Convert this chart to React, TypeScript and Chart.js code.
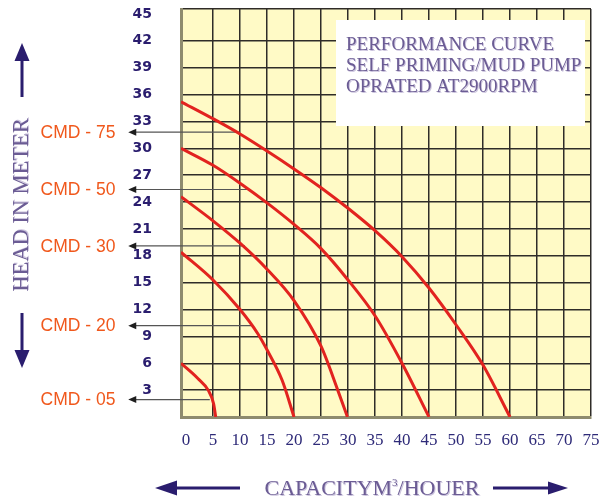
import { useEffect, useRef } from 'react';
import { Chart, registerables } from 'chart.js';

Chart.register(...registerables);

// ---- axis definitions ----
const X_TICKS = [0, 5, 10, 15, 20, 25, 30, 35, 40, 45, 50, 55, 60, 65, 70, 75];
const Y_TICKS = [0, 3, 6, 9, 12, 15, 18, 21, 24, 27, 30, 33, 36, 39, 42, 45];
const X_MIN = -0.93;
const X_MAX = 75;
const Y_MAX = 45.55;

// ---- performance curves (capacity m3/h, head m) ----
const cmd75Q = [-0.93, 5, 10, 15, 20, 25, 30, 35, 40, 45, 50, 55, 60];
const cmd75H = [35.2, 33.3, 31.6, 29.7, 27.7, 25.6, 23.3, 20.8, 17.9, 14.4, 10.3, 5.8, 0];

const cmd50Q = [-0.93, 5, 10, 15, 20, 25, 30, 35, 40, 45];
const cmd50H = [30.0, 28.1, 26.1, 23.9, 21.5, 18.8, 15.3, 11.3, 6.0, 0];

const cmd30Q = [-0.93, 5, 10, 15, 20, 25, 28.1, 29.9];
const cmd30H = [24.6, 21.9, 19.4, 16.5, 13.0, 7.9, 3.0, 0];

const cmd20Q = [-0.93, 5, 10, 13.3, 15, 17.8, 20];
const cmd20H = [18.4, 15.3, 12.0, 9.3, 7.5, 4.1, 0];

const cmd05Q = [-0.93, 2.2, 4.1, 5.1, 5.5];
const cmd05H = [6.0, 4.3, 3.0, 1.5, 0];

// ---- pointer arrows to the model labels ----
const cmdLabels = ['CMD - 75', 'CMD - 50', 'CMD - 30', 'CMD - 20', 'CMD - 05'];
const arrowHead = [31.8, 25.4, 19.1, 10.2, 1.95];
const arrowStartQ = [10.0, 11.9, 10.9, 12.1, 4.4];
const ARROW_TIP_Q = -10.7;

const titleLines = ['PERFORMANCE CURVE', 'SELF PRIMING/MUD PUMP', 'OPRATED AT2900RPM'];

const zip = (xs: number[], ys: number[]) => xs.map((x, i) => ({ x, y: ys[i] }));

const NAVY = '#2a1d6e';
const PURPLE = '#6b5c94';
const SHADOW = '#cbc3dd';

const decorPlugin = {
  id: 'decor',
  beforeDraw(chart: any) {
    const { ctx, chartArea: a } = chart;
    ctx.save();
    ctx.fillStyle = '#fffac6';
    ctx.fillRect(a.left, a.top, a.right - a.left, a.bottom - a.top);
    ctx.restore();
  },
  beforeDatasetsDraw(chart: any) {
    const { ctx, chartArea: a } = chart;
    ctx.save();
    const bx = a.left + 155;
    const by = a.top + 11;
    ctx.fillStyle = '#ffffff';
    ctx.fillRect(bx, by, 249, 106);
    ctx.font = '19px "Liberation Serif", serif';
    ctx.textBaseline = 'middle';
    ctx.textAlign = 'left';
    titleLines.forEach((t, i) => {
      ctx.fillStyle = SHADOW;
      ctx.fillText(t, bx + 11, by + 25 + i * 21 + 1);
      ctx.fillStyle = PURPLE;
      ctx.fillText(t, bx + 10, by + 25 + i * 21);
    });
    ctx.restore();
  },
  afterDatasetsDraw(chart: any) {
    const { ctx } = chart;
    const xs = chart.scales.x;
    const ys = chart.scales.y;
    ctx.save();
    ctx.fillStyle = '#1e1e1e';
    const tx = xs.getPixelForValue(ARROW_TIP_Q);
    arrowHead.forEach((h) => {
      const py = ys.getPixelForValue(h);
      ctx.beginPath();
      ctx.moveTo(tx, py);
      ctx.lineTo(tx + 8, py - 3.5);
      ctx.lineTo(tx + 8, py + 3.5);
      ctx.closePath();
      ctx.fill();
    });
    ctx.restore();
  },
  afterDraw(chart: any) {
    const { ctx } = chart;
    const ys = chart.scales.y;
    ctx.save();
    // model labels
    ctx.font = '17.5px "Liberation Sans", Arial, sans-serif';
    ctx.fillStyle = '#f0581c';
    ctx.textAlign = 'center';
    ctx.textBaseline = 'middle';
    cmdLabels.forEach((t, i) => {
      ctx.fillText(t, 78, ys.getPixelForValue(arrowHead[i]) + 1);
    });

    // y axis title
    ctx.save();
    ctx.translate(22, 205);
    ctx.rotate(-Math.PI / 2);
    ctx.font = '22.5px "Liberation Serif", serif';
    ctx.textAlign = 'center';
    ctx.textBaseline = 'middle';
    ctx.fillStyle = SHADOW;
    ctx.fillText('HEAD IN METER', 1, 1);
    ctx.fillStyle = PURPLE;
    ctx.fillText('HEAD IN METER', 0, 0);
    ctx.restore();

    // vertical arrows
    ctx.strokeStyle = NAVY;
    ctx.fillStyle = NAVY;
    ctx.lineWidth = 3;
    ctx.beginPath();
    ctx.moveTo(22, 97);
    ctx.lineTo(22, 58);
    ctx.moveTo(22, 313);
    ctx.lineTo(22, 354);
    ctx.stroke();
    ctx.beginPath();
    ctx.moveTo(22, 43);
    ctx.lineTo(29.5, 61);
    ctx.lineTo(14.5, 61);
    ctx.closePath();
    ctx.fill();
    ctx.beginPath();
    ctx.moveTo(22, 368);
    ctx.lineTo(29.5, 350);
    ctx.lineTo(14.5, 350);
    ctx.closePath();
    ctx.fill();

    // x axis title
    const cy = 488;
    const big = '22px "Liberation Serif", serif';
    const small = '11px "Liberation Serif", serif';
    const p1 = 'CAPACITYM';
    const p3 = '/HOUER';
    ctx.font = big;
    const w1 = ctx.measureText(p1).width;
    const w3 = ctx.measureText(p3).width;
    ctx.font = small;
    const w2 = ctx.measureText('3').width;
    const x0 = 372 - (w1 + w2 + w3) / 2;
    ctx.textAlign = 'left';
    ctx.textBaseline = 'alphabetic';
    const drawPart = (txt: string, x: number, y: number, font: string) => {
      ctx.font = font;
      ctx.fillStyle = SHADOW;
      ctx.fillText(txt, x + 1, y + 1);
      ctx.fillStyle = PURPLE;
      ctx.fillText(txt, x, y);
    };
    drawPart(p1, x0, 495, big);
    drawPart('3', x0 + w1, 486, small);
    drawPart(p3, x0 + w1 + w2, 495, big);

    // horizontal arrows
    ctx.strokeStyle = NAVY;
    ctx.fillStyle = NAVY;
    ctx.lineWidth = 3;
    ctx.beginPath();
    ctx.moveTo(240, cy);
    ctx.lineTo(172, cy);
    ctx.moveTo(493, cy);
    ctx.lineTo(552, cy);
    ctx.stroke();
    ctx.beginPath();
    ctx.moveTo(155, cy);
    ctx.lineTo(177, cy - 7.5);
    ctx.lineTo(177, cy + 7.5);
    ctx.closePath();
    ctx.fill();
    ctx.beginPath();
    ctx.moveTo(568, cy);
    ctx.lineTo(548, cy - 6.5);
    ctx.lineTo(548, cy + 6.5);
    ctx.closePath();
    ctx.fill();
    ctx.restore();
  },
};

export default function App() {
  const ref = useRef<HTMLCanvasElement | null>(null);

  useEffect(() => {
    if (!ref.current) return;
    const curve = (data: { x: number; y: number }[]) => ({
      data,
      borderColor: '#e2231f',
      borderWidth: 3,
      pointRadius: 0,
      tension: 0.4,
      cubicInterpolationMode: 'monotone' as const,
      fill: false,
    });
    const arrows = arrowHead.map((h, i) => ({
      data: [
        { x: arrowStartQ[i], y: h },
        { x: ARROW_TIP_Q + 1, y: h },
      ],
      borderColor: '#555555',
      borderWidth: 1.2,
      pointRadius: 0,
      clip: false as const,
      tension: 0,
    }));

    const chart = new Chart(ref.current, {
      type: 'line',
      data: {
        datasets: [
          curve(zip(cmd75Q, cmd75H)),
          curve(zip(cmd50Q, cmd50H)),
          curve(zip(cmd30Q, cmd30H)),
          curve(zip(cmd20Q, cmd20H)),
          curve(zip(cmd05Q, cmd05H)),
          ...arrows,
        ] as any,
      },
      options: {
        animation: false,
        responsive: true,
        maintainAspectRatio: false,
        layout: { autoPadding: false, padding: { top: 9, right: 17, left: 0, bottom: 0 } },
        plugins: { legend: { display: false }, tooltip: { enabled: false } },
        scales: {
          x: {
            type: 'linear',
            min: X_MIN,
            max: X_MAX,
            afterBuildTicks: (s: any) => {
              s.ticks = X_TICKS.map((v) => ({ value: v }));
            },
            afterFit: (s: any) => {
              s.height = 83;
              s.paddingLeft = 0;
              s.paddingRight = 0;
            },
            grid: {
              color: (c: any) => (c.tick && c.tick.value === 0 ? 'rgba(0,0,0,0)' : '#2f2c28'),
              lineWidth: 1.5,
              drawTicks: false,
            },
            border: { color: '#8e8b6e', width: 3 },
            ticks: {
              autoSkip: false,
              maxRotation: 0,
              padding: 13,
              color: '#2e2a78',
              font: { family: '"Liberation Serif", serif', size: 17 },
              callback: (v: any) => String(v),
            },
          },
          y: {
            type: 'linear',
            min: 0,
            max: Y_MAX,
            afterBuildTicks: (s: any) => {
              s.ticks = [...Y_TICKS, Y_MAX].map((v) => ({ value: v }));
            },
            afterFit: (s: any) => {
              s.width = 181;
              s.paddingTop = 0;
              s.paddingBottom = 0;
            },
            grid: {
              color: (c: any) => {
                const v = c.tick ? c.tick.value : null;
                return v === 0 || v === 45 ? 'rgba(0,0,0,0)' : '#2f2c28';
              },
              lineWidth: 1.5,
              drawTicks: false,
            },
            border: { color: '#8e8b6e', width: 3 },
            ticks: {
              autoSkip: false,
              padding: 29,
              color: NAVY,
              font: { family: '"DejaVu Sans", sans-serif', size: 14, weight: 'bold' },
              callback: (v: any) => (v === 0 || v === Y_MAX ? '' : String(v)),
            },
          },
        },
      } as any,
      plugins: [decorPlugin],
    });
    return () => chart.destroy();
  }, []);

  return (
    <div style={{ position: 'fixed', left: 0, top: 0, width: 608, height: 500, background: '#ffffff' }}>
      <canvas ref={ref} />
    </div>
  );
}
